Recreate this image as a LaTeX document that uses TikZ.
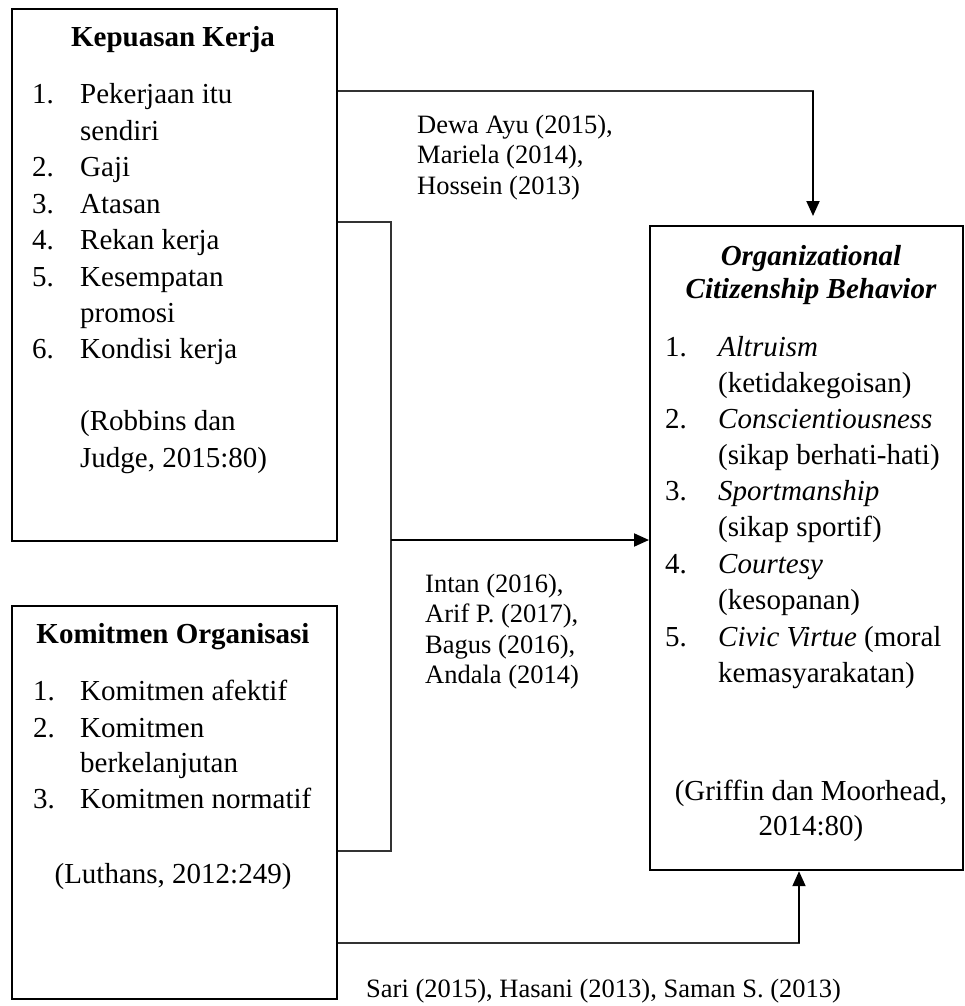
\documentclass[tikz,border=0pt]{standalone}
\usepackage{fontspec}
\setmainfont{Liberation Serif}
\usetikzlibrary{arrows.meta}
\begin{document}
\begin{tikzpicture}[x=1pt,y=-1pt,
  box/.style={draw=black, line width=2.2pt, rectangle, inner sep=0pt, anchor=north west},
  txt/.style={anchor=base west, inner sep=0pt, font=\fontsize{29}{35}\selectfont},
  ctr/.style={anchor=base, inner sep=0pt, font=\fontsize{29}{35}\selectfont},
  ttl/.style={anchor=base, inner sep=0pt, font=\fontsize{29}{35}\selectfont\bfseries},
  cite/.style={anchor=base west, inner sep=0pt, font=\fontsize{26.5}{30}\selectfont},
  conn/.style={line width=1.2pt, draw=black!80, line cap=rect},
  arr/.style={line width=2pt, draw=black, -{Triangle[length=15pt,width=13pt]}},
]
\useasboundingbox (0,0) rectangle (964,1006);

% boxes
\node[box, minimum width=325pt, minimum height=532pt] (kk) at (11,8) {};
\node[box, minimum width=325pt, minimum height=393pt] (ko) at (11,605) {};
\node[box, minimum width=313pt, minimum height=644pt] (ocb) at (649,225) {};

% Kepuasan Kerja
\node[ttl] (kkt) at (173,47) {Kepuasan Kerja};
\node[txt] (kkn1) at (32,104) {1.};
\node[txt] (kki1) at (80,104) {Pekerjaan itu};
\node[txt] (kki1b) at (80,140) {sendiri};
\node[txt] (kkn2) at (32,176) {2.};
\node[txt] (kki2) at (80,176) {Gaji};
\node[txt] (kkn3) at (32,213) {3.};
\node[txt] (kki3) at (80,213) {Atasan};
\node[txt] (kkn4) at (32,249) {4.};
\node[txt] (kki4) at (80,249) {Rekan kerja};
\node[txt] (kkn5) at (32,286) {5.};
\node[txt] (kki5) at (80,286) {Kesempatan};
\node[txt] (kki5b) at (80,322) {promosi};
\node[txt] (kkn6) at (32,358) {6.};
\node[txt] (kki6) at (80,358) {Kondisi kerja};
\node[txt] (kkr1) at (80,430) {(Robbins dan};
\node[txt] (kkr2) at (80,467) {Judge, 2015:80)};

% Komitmen Organisasi
\node[ttl] (kot) at (173,643) {Komitmen Organisasi};
\node[txt] (kon1) at (33,700) {1.};
\node[txt] (koi1) at (80,700) {Komitmen afektif};
\node[txt] (kon2) at (33,737) {2.};
\node[txt] (koi2) at (80,737) {Komitmen};
\node[txt] (koi2b) at (80,772) {berkelanjutan};
\node[txt] (kon3) at (33,808) {3.};
\node[txt] (koi3) at (80,808) {Komitmen normatif};
\node[ctr] (kor) at (173,883) {(Luthans, 2012:249)};

% OCB
\node[ttl, font=\fontsize{29}{35}\selectfont\bfseries\itshape] (ocbt1) at (811,265) {Organizational};
\node[ttl, font=\fontsize{29}{35}\selectfont\bfseries\itshape] (ocbt2) at (811,298) {Citizenship Behavior};
\node[txt] (ocn1) at (665,356) {1.};
\node[txt] (oci1) at (718,356) {\textit{Altruism}};
\node[txt] (oci1b) at (718,392) {(ketidakegoisan)};
\node[txt] (ocn2) at (665,428) {2.};
\node[txt] (oci2) at (718,428) {\textit{Conscientiousness}};
\node[txt] (oci2b) at (718,464) {(sikap berhati-hati)};
\node[txt] (ocn3) at (665,500) {3.};
\node[txt] (oci3) at (718,500) {\textit{Sportmanship}};
\node[txt] (oci3b) at (718,536) {(sikap sportif)};
\node[txt] (ocn4) at (665,573) {4.};
\node[txt] (oci4) at (718,573) {\textit{Courtesy}};
\node[txt] (oci4b) at (718,609) {(kesopanan)};
\node[txt] (ocn5) at (665,646) {5.};
\node[txt] (oci5) at (718,646) {\textit{Civic Virtue} (moral};
\node[txt] (oci5b) at (718,682) {kemasyarakatan)};
\node[ctr] (ocr1) at (811,800) {(Griffin dan Moorhead,};
\node[ctr] (ocr2) at (811,835) {2014:80)};

% citations
\node[cite] (c1a) at (417,134) {Dewa Ayu (2015),};
\node[cite] (c1b) at (417,164) {Mariela (2014),};
\node[cite] (c1c) at (417,194) {Hossein (2013)};
\node[cite] (c2a) at (425,592) {Intan (2016),};
\node[cite] (c2b) at (425,622) {Arif P. (2017),};
\node[cite] (c2c) at (425,653) {Bagus (2016),};
\node[cite] (c2d) at (425,683) {Andala (2014)};
\node[cite] (c3a) at (366,997) {Sari (2015), Hasani (2013), Saman S. (2013)};

% connectors
\coordinate (t1) at (813,91);
\draw[conn] (kk.east |- t1) -- (t1);
\draw[arr, shorten >=9pt] (t1) -- (t1 |- ocb.north);

\coordinate (m1) at (391,222);
\coordinate (m2) at (391,851);
\coordinate (m3) at (391,540);
\draw[conn] (kk.east |- m1) -- (m1) -- (m2) -- (ko.east |- m2);
\draw[arr] (m3) -- (ocb.west |- m3);

\coordinate (b1) at (799,943);
\draw[conn] (ko.east |- b1) -- (b1);
\draw[arr] (b1) -- (b1 |- ocb.south);
\end{tikzpicture}
\end{document}
